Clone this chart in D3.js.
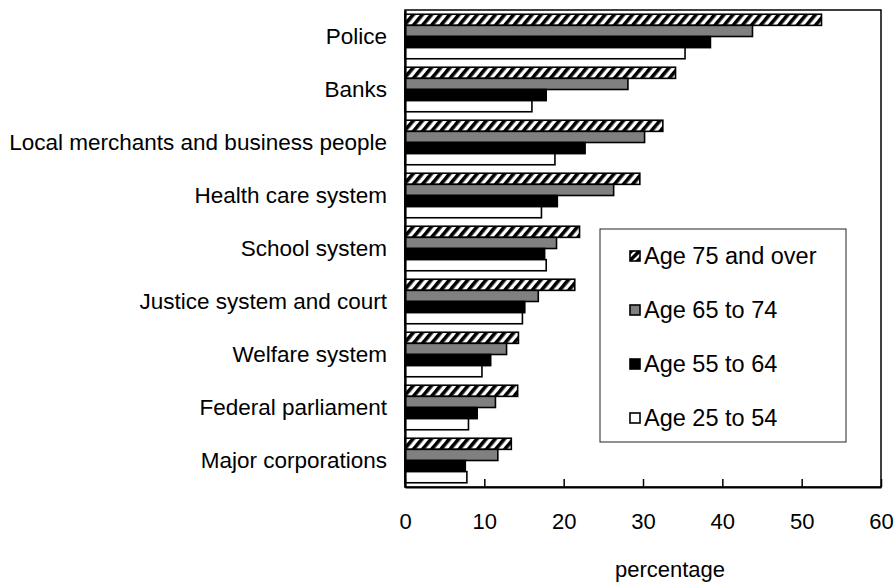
<!DOCTYPE html>
<html><head><meta charset="utf-8">
<script src="https://cdn.jsdelivr.net/npm/d3@7"></script>
<style>body{margin:0;background:#fff;} svg{display:block;font-family:"Liberation Sans",Arial,sans-serif;}</style>
</head><body>
<svg id="chart" width="896" height="584"></svg>
<script>
const categories = ["Police","Banks","Local merchants and business people","Health care system","School system","Justice system and court","Welfare system","Federal parliament","Major corporations"];
const seriesNames = ["Age 75 and over","Age 65 to 74","Age 55 to 64","Age 25 to 54"];
const age75 = [52.5, 34.1, 32.5, 29.6, 22.0, 21.4, 14.3, 14.2, 13.4];
const age65 = [43.8, 28.1, 30.2, 26.3, 19.1, 16.8, 12.8, 11.4, 11.7];
const age55 = [38.5, 17.8, 22.7, 19.2, 17.6, 15.1, 10.8, 9.1, 7.6];
const age25 = [35.3, 16.0, 18.9, 17.2, 17.8, 14.8, 9.7, 8.0, 7.8];
const xTicks = [0,10,20,30,40,50,60];
const seriesValues = [age75, age65, age55, age25];

const FS = 22;
const svg = d3.select("#chart");
const x0 = 405, x1 = 881, yTop = 10, yBot = 487;

const defs = svg.append("defs");
const pat = defs.append("pattern").attr("id","hatch").attr("patternUnits","userSpaceOnUse")
  .attr("width",7).attr("height",7).attr("patternTransform","rotate(40)");
pat.append("rect").attr("width",7).attr("height",7).attr("fill","#fff");
pat.append("rect").attr("width",3.6).attr("height",7).attr("fill","#000");
const patL = defs.append("pattern").attr("id","hatchL").attr("patternUnits","userSpaceOnUse")
  .attr("x",630).attr("y",251).attr("width",10).attr("height",10);
patL.append("rect").attr("width",10).attr("height",10).attr("fill","#000");
patL.append("path").attr("d","M2,10 L10,2 L10,5 L5,10 Z M0,7 L7,0 L4,0 L0,4 Z").attr("fill","#fff");

const fills = ["url(#hatch)","#808080","#000000","#ffffff"];

const x = d3.scaleLinear().domain([0,60]).range([x0,x1]);
const y = d3.scaleBand().domain(categories).range([yTop,yBot]).paddingInner(0.16).paddingOuter(0.08);
const ys = d3.scaleBand().domain(seriesNames).range([0,y.bandwidth()]);

// frame
svg.append("rect").attr("x",x0).attr("y",yTop).attr("width",x1-x0).attr("height",yBot-yTop)
  .attr("fill","none").attr("stroke","#000").attr("stroke-width",1.5);

// bars
categories.forEach((c,i)=>{
  const g = svg.append("g").attr("transform",`translate(0,${y(c)})`);
  seriesNames.forEach((s,j)=>{
    g.append("rect").attr("x",x(0)).attr("y",ys(s)).attr("width",x(seriesValues[j][i])-x(0))
     .attr("height",ys.bandwidth()).attr("fill",fills[j]).attr("stroke","#000").attr("stroke-width",1.6);
  });
});

// x axis
const xAxis = d3.axisBottom(x).tickValues(xTicks).tickSizeInner(-8).tickSizeOuter(0).tickPadding(26);
const gx = svg.append("g").attr("transform",`translate(0,${yBot})`).call(xAxis);
gx.select(".domain").attr("stroke","#000").attr("stroke-width",2);
gx.selectAll(".tick line").attr("stroke","#000").attr("stroke-width",1.5);
gx.selectAll("text").attr("font-size",FS).attr("fill","#000").attr("font-family","Liberation Sans, Arial, sans-serif");

// y axis
const yAxis = d3.axisLeft(y).tickSize(0).tickPadding(18);
const gy = svg.append("g").attr("transform",`translate(${x0},0)`).call(yAxis);
gy.select(".domain").attr("stroke","#000").attr("stroke-width",2.2);
gy.selectAll("text").attr("font-size",22.5).attr("fill","#000").attr("font-family","Liberation Sans, Arial, sans-serif");

// axis title
svg.append("text").attr("x",670).attr("y",577).attr("text-anchor","middle")
  .attr("font-size",FS).attr("fill","#000").text("percentage");

// legend
const lg = svg.append("g");
lg.append("rect").attr("x",600).attr("y",229).attr("width",246).attr("height",213)
  .attr("fill","#fff").attr("stroke","#222").attr("stroke-width",1);
const legY = d3.scalePoint().domain(seriesNames).range([256,418]);
seriesNames.forEach((s,j)=>{
  lg.append("rect").attr("x",630).attr("y",legY(s)-5).attr("width",10).attr("height",10)
    .attr("fill", j===0 ? "url(#hatchL)" : fills[j]).attr("stroke","#000").attr("stroke-width",1.6);
  lg.append("text").attr("x",644).attr("y",legY(s)).attr("dy","0.36em").attr("font-size",23.5)
    .attr("fill","#000").text(s);
});
</script>
</body></html>
